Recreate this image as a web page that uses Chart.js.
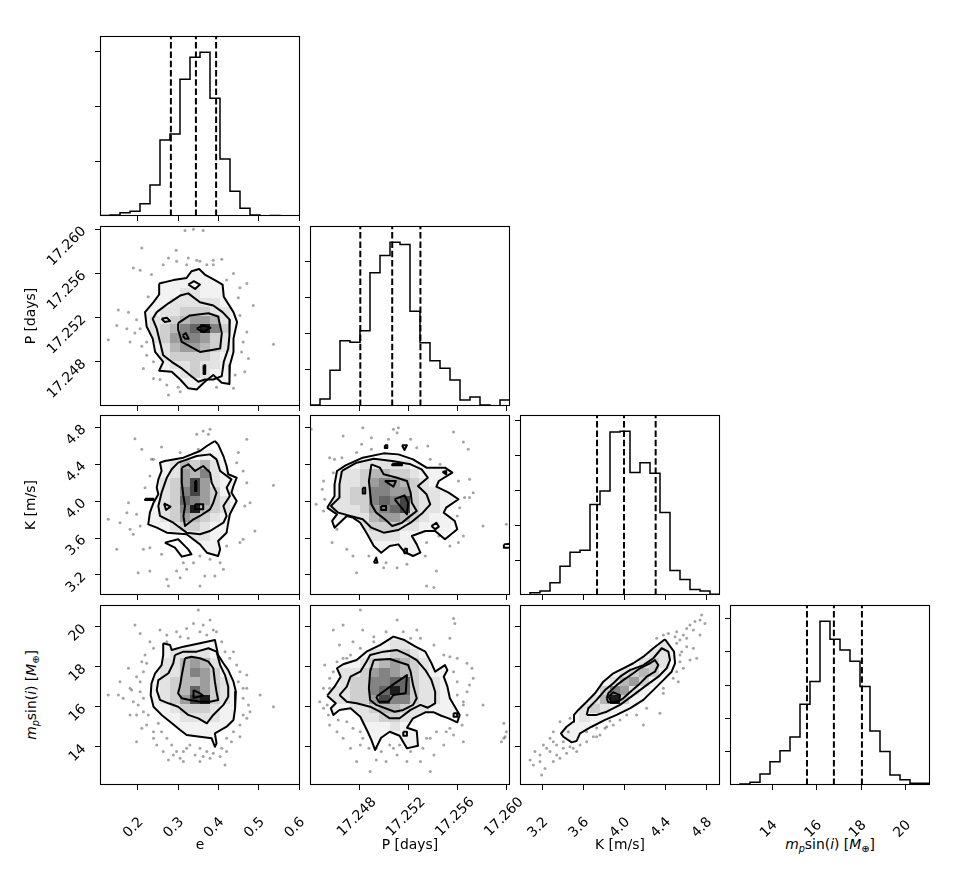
<!DOCTYPE html>
<html><head><meta charset="utf-8">
<script src="https://cdn.jsdelivr.net/npm/chart.js@4.4.1/dist/chart.umd.min.js"></script>
<style>
html,body{margin:0;padding:0;background:#fff;}
body{width:969px;height:874px;position:relative;overflow:hidden;font-family:'DejaVu Sans',sans-serif;}
canvas{position:absolute;}
.lbl{position:absolute;font-family:'DejaVu Sans',sans-serif;font-size:13.9px;white-space:nowrap;color:#000;line-height:1;}
.lbl sub{font-size:70%;vertical-align:-0.3em;line-height:0;}
</style></head><body>
<div class="lbl" style="left:830px;top:845px;transform:translate(-50%,-50%)"><i>m</i><sub><i>p</i></sub>sin(<i>i</i>) [<i>M</i><sub>⊕</sub>]</div>
<div class="lbl" style="left:31.5px;top:695px;transform:translate(-50%,-50%) rotate(-90deg)"><i>m</i><sub><i>p</i></sub>sin(<i>i</i>) [<i>M</i><sub>⊕</sub>]</div>
<script>
// ---------------- DATA ----------------
const eRange = [0.1065, 0.6017];
const pRange = [17.2440, 17.2603];
const kRange = [2.982, 4.934];
const mRange = [12.10, 21.09];

const eTickLabels = ['0.2','0.3','0.4','0.5','0.6'];
const pTickLabels = ['17.248','17.252','17.256','17.260'];
const kTickLabels = ['3.2','3.6','4.0','4.4','4.8'];
const mTickLabels = ['14','16','18','20'];

const eCounts = [1,2,6,8.5,22.6,56.7,139,150,250,290,299,215,104,45,14,2,0,1,0,0];
const pCounts = [1.4,9.7,49.5,90,88,104,184,208,226,223,131,87.5,62.5,52,36,8.3,12.5,1.4,0,8.3];
const kCounts = [0,3.3,5.7,17.6,41,61,64,129.5,148.6,233,234,175,189,174,118,35,22,8,5.7,1];
const mCounts = [0.5,1.5,4,16.5,35,51.5,72,121.5,155.5,246,219,203,186,148,81,50.5,15,8,2.5,2.5];

const eHistTicks = [100,200,300];
const pHistTicks = [50,100,150,200];
const kHistTicks = [50,100,150,200,250];
const mHistTicks = [50,100,150,200,250];

const eQuant = [0.282, 0.344, 0.394];
const pQuant = [17.2481, 17.2507, 17.2530];
const kQuant = [3.734, 3.997, 4.306];
const mQuant = [15.56, 16.77, 18.03];

const Z = "00000000000000000000";
const gridEP = [Z,Z,Z,Z,Z,
"00000000011000000000","00000011111110000000","00000011221110000000","00000112222211000000",
"00001122333221000000","00001223455421000000","00001234679631000000","00000235665321000000",
"00000124554321000000","00000123333211000000","00000012232210000000","00000011232110000000",
"00000001111110000000",Z,Z];
const gridEK = [Z,Z,Z,Z,
"00000000001100000000","00000012434210000000","00000012546210000000","00000123585211000000",
"00000123685311000000","00000123765321000000","00000123694321000000","00000123543210000000",
"00000112332110000000","00000001122110000000","00000000011100000000","00000000001100000000",Z,Z,Z,Z];
const gridPK = [Z,Z,Z,Z,
"00000001110000000000","00011222221100000000","00122344332111000000","00122356543211000000",
"00123366553221100000","01223367683221100000","01222356783221100000","00112245543211100000",
"00011233322111000000","00001122211110000000","00000011111000000000","00000000011000000000",Z,Z,Z,Z];
const gridEM = [Z,Z,Z,Z,
"00000011111100000000","00000112222110000000","00000122454211000000","00000122465311000000",
"00000123445321000000","00000123475321000000","00000123589321000000","00000112333211000000",
"00000011222211000000","00000001111110000000","00000000111100000000",Z,Z,Z,Z,Z];
const gridPM = [Z,Z,Z,
"00000000110000000000","00000011221100000000","00001122332110000000","00011234543211000000",
"00122356543211000000","00123366773221100000","01223367973221100000","01223358663221100000",
"00112234432211100000","00011223322111000000","00000111211100000000","00000011111000000000",
"00000001111000000000",Z,Z,Z,Z];
const gridKM = [Z,Z,Z,
"00000000000000100000","00000000000001210000","00000000000012210000","00000000001123200000",
"00000000012343100000","00000000124531000000","00000001365210000000","00000012493100000000",
"00000123211000000000","00001121100000000000","00001110000000000000","00001100000000000000",
"00001100000000000000",Z,Z,Z,Z];

// contours (outer first)
const epOuter = [[0.253,17.2551],[0.288,17.2554],[0.321,17.2556],[0.333,17.2562],[0.352,17.2564],[0.366,17.2559],[0.391,17.2554],[0.410,17.2550],[0.413,17.2539],[0.437,17.2525],[0.446,17.2516],[0.437,17.2501],[0.437,17.2489],[0.428,17.2477],[0.427,17.2460],[0.408,17.2461],[0.387,17.2468],[0.366,17.2462],[0.346,17.2455],[0.325,17.2456],[0.305,17.2464],[0.284,17.2471],[0.253,17.2472],[0.263,17.2480],[0.243,17.2489],[0.237,17.2501],[0.222,17.2512],[0.218,17.2525],[0.239,17.2534],[0.253,17.2541]];
const epMid = [[0.247,17.2525],[0.276,17.2533],[0.305,17.2540],[0.325,17.2542],[0.354,17.2534],[0.387,17.2531],[0.410,17.2525],[0.428,17.2518],[0.427,17.2504],[0.424,17.2492],[0.413,17.2480],[0.408,17.2467],[0.387,17.2464],[0.366,17.2464],[0.350,17.2462],[0.329,17.2468],[0.309,17.2474],[0.284,17.2480],[0.263,17.2486],[0.255,17.2498],[0.247,17.2510],[0.237,17.2519]];
const epInner = [[0.300,17.2515],[0.329,17.2522],[0.375,17.2524],[0.399,17.2521],[0.408,17.2506],[0.404,17.2492],[0.387,17.2491],[0.354,17.2489],[0.329,17.2494],[0.309,17.2498],[0.300,17.2509]];
const epIslands = [
 [[0.325,17.2550],[0.339,17.2553],[0.354,17.2550],[0.342,17.2546]],
 [[0.259,17.2519],[0.272,17.2520],[0.280,17.2517],[0.267,17.2516]],
 [[0.346,17.2510],[0.362,17.2513],[0.380,17.2511],[0.364,17.2507]],
 [[0.311,17.2504],[0.319,17.2506],[0.326,17.2501],[0.317,17.2501]],
 [[0.363,17.2477],[0.367,17.2477],[0.367,17.2469],[0.363,17.2469]]];

const ekOuter = [[0.391,4.652],[0.371,4.598],[0.354,4.544],[0.313,4.471],[0.267,4.435],[0.255,4.417],[0.259,4.327],[0.251,4.236],[0.247,4.146],[0.251,4.074],[0.239,3.983],[0.230,3.875],[0.226,3.748],[0.247,3.712],[0.272,3.658],[0.321,3.640],[0.354,3.531],[0.371,3.441],[0.399,3.405],[0.404,3.477],[0.399,3.568],[0.420,3.658],[0.424,3.766],[0.428,3.857],[0.445,4.001],[0.432,4.092],[0.437,4.164],[0.445,4.254],[0.424,4.291],[0.420,4.381],[0.412,4.489],[0.399,4.616]];
const ekMid = [[0.300,4.417],[0.346,4.489],[0.379,4.507],[0.395,4.453],[0.404,4.327],[0.432,4.236],[0.420,4.146],[0.428,4.056],[0.412,3.947],[0.420,3.839],[0.412,3.766],[0.379,3.676],[0.354,3.640],[0.321,3.658],[0.288,3.766],[0.255,3.839],[0.251,3.947],[0.259,4.092],[0.272,4.254],[0.284,4.345]];
const ekInner = [[0.309,4.363],[0.325,4.399],[0.342,4.327],[0.362,4.381],[0.379,4.309],[0.383,4.200],[0.395,4.092],[0.387,3.983],[0.379,3.911],[0.354,3.839],[0.338,3.803],[0.317,3.730],[0.313,3.839],[0.317,3.947],[0.313,4.056],[0.309,4.200]];
const ekIslands = [
 [[0.265,3.976],[0.281,3.940],[0.270,3.904]],
 [[0.218,4.027],[0.239,4.027],[0.239,4.012],[0.218,4.012]],
 [[0.342,4.218],[0.345,4.218],[0.345,4.110],[0.342,4.110]],
 [[0.342,3.965],[0.362,3.965],[0.362,3.911],[0.342,3.911]],
 [[0.267,3.550],[0.300,3.586],[0.325,3.477],[0.333,3.423],[0.309,3.398],[0.292,3.495]]];

const pkOuter = [[17.2454,3.929],[17.2460,4.056],[17.2460,4.182],[17.2462,4.327],[17.2469,4.388],[17.2483,4.471],[17.2500,4.518],[17.2512,4.507],[17.2524,4.453],[17.2535,4.363],[17.2550,4.363],[17.2556,4.309],[17.2545,4.218],[17.2543,4.157],[17.2553,4.092],[17.2561,4.020],[17.2551,3.929],[17.2549,3.875],[17.2558,3.785],[17.2560,3.694],[17.2550,3.586],[17.2542,3.676],[17.2534,3.676],[17.2523,3.622],[17.2527,3.531],[17.2530,3.441],[17.2524,3.405],[17.2517,3.448],[17.2512,3.531],[17.2505,3.513],[17.2498,3.441],[17.2492,3.513],[17.2486,3.658],[17.2481,3.766],[17.2475,3.821],[17.2470,3.839],[17.2460,3.712],[17.2458,3.785],[17.2462,3.857]];
const pkMid = [[17.2466,4.327],[17.2478,4.417],[17.2492,4.460],[17.2507,4.435],[17.2522,4.399],[17.2531,4.345],[17.2536,4.254],[17.2528,4.164],[17.2535,4.074],[17.2538,3.965],[17.2532,3.875],[17.2522,3.766],[17.2512,3.687],[17.2500,3.658],[17.2490,3.712],[17.2483,3.803],[17.2473,3.839],[17.2463,3.875],[17.2457,3.947],[17.2464,4.038],[17.2464,4.182]];
const pkInner = [[17.2490,4.399],[17.2497,4.363],[17.2500,4.291],[17.2511,4.254],[17.2519,4.218],[17.2522,4.092],[17.2523,3.983],[17.2527,3.893],[17.2520,3.821],[17.2515,3.766],[17.2507,3.730],[17.2501,3.803],[17.2494,3.875],[17.2490,3.965],[17.2489,4.092],[17.2488,4.218]];
const pkIslands = [
 [[17.2501,4.218],[17.2510,4.218],[17.2508,4.157]],
 [[17.2509,4.020],[17.2517,4.063],[17.2520,3.983],[17.2519,3.857]],
 [[17.2498,3.947],[17.2502,3.947],[17.2502,3.904],[17.2498,3.904]],
 [[17.2483,4.146],[17.2485,4.146],[17.2485,4.084],[17.2483,4.084]],
 [[17.2515,4.605],[17.2519,4.605],[17.2517,4.555]],
 [[17.2501,4.605],[17.2503,4.605],[17.2503,4.576],[17.2501,4.576]],
 [[17.2507,4.406],[17.2515,4.406],[17.2515,4.388],[17.2507,4.388]],
 [[17.2539,3.730],[17.2543,3.766],[17.2545,3.723],[17.2542,3.694]],
 [[17.2517,3.484],[17.2519,3.484],[17.2519,3.434],[17.2517,3.434]],
 [[17.2492,3.333],[17.2494,3.387],[17.2495,3.333]],
 [[17.2598,3.531],[17.2603,3.539],[17.2603,3.495],[17.2598,3.495]],
 [[17.2548,4.316],[17.2551,4.327],[17.2551,4.291]]];

const emOuter = [[0.263,19.18],[0.280,19.09],[0.284,18.84],[0.313,19.01],[0.354,19.18],[0.391,19.34],[0.399,18.59],[0.412,18.18],[0.424,17.84],[0.437,17.26],[0.443,16.76],[0.441,15.93],[0.437,15.35],[0.420,15.01],[0.391,14.68],[0.395,14.18],[0.391,14.01],[0.383,14.43],[0.354,14.51],[0.321,14.60],[0.305,14.85],[0.280,15.26],[0.259,15.60],[0.239,16.01],[0.232,16.59],[0.234,17.18],[0.243,17.68],[0.259,18.09],[0.263,18.59]];
const emMid = [[0.292,18.59],[0.313,18.76],[0.346,18.76],[0.375,18.93],[0.395,18.76],[0.404,18.09],[0.416,17.59],[0.424,17.01],[0.424,16.51],[0.412,16.10],[0.387,15.60],[0.371,15.18],[0.350,15.43],[0.325,15.60],[0.300,16.01],[0.276,16.18],[0.255,16.35],[0.247,16.84],[0.251,17.34],[0.276,17.68],[0.288,18.18]];
const emInner = [[0.317,18.43],[0.333,18.51],[0.354,18.43],[0.375,18.26],[0.387,17.93],[0.391,17.26],[0.395,16.76],[0.399,16.35],[0.379,16.26],[0.354,16.26],[0.329,16.35],[0.309,16.43],[0.300,16.68],[0.305,17.09],[0.309,17.59]];
const emIslands = [[[0.338,16.84],[0.354,16.68],[0.362,16.56],[0.339,16.46]]];

const pmOuter = [[17.2454,16.56],[17.2460,17.01],[17.2465,17.51],[17.2462,17.93],[17.2467,18.13],[17.2478,18.34],[17.2486,18.76],[17.2497,19.09],[17.2508,19.51],[17.2517,19.34],[17.2526,19.01],[17.2534,18.76],[17.2539,18.18],[17.2542,17.76],[17.2550,18.09],[17.2552,17.84],[17.2549,17.51],[17.2552,17.01],[17.2554,16.43],[17.2562,15.60],[17.2560,15.23],[17.2553,15.43],[17.2547,15.56],[17.2541,15.73],[17.2534,15.73],[17.2524,15.43],[17.2519,14.96],[17.2527,14.80],[17.2528,14.06],[17.2519,13.93],[17.2513,14.56],[17.2505,14.76],[17.2498,14.46],[17.2493,13.85],[17.2490,14.35],[17.2487,14.76],[17.2481,15.51],[17.2473,15.93],[17.2464,15.85],[17.2459,15.60],[17.2457,15.93],[17.2461,16.18]];
const pmMid = [[17.2464,16.59],[17.2470,17.01],[17.2473,17.51],[17.2481,17.76],[17.2486,18.26],[17.2489,18.59],[17.2500,18.76],[17.2511,18.84],[17.2520,18.59],[17.2527,18.34],[17.2534,17.84],[17.2539,17.34],[17.2542,16.76],[17.2542,16.18],[17.2536,15.96],[17.2530,16.10],[17.2522,15.85],[17.2513,15.43],[17.2505,15.43],[17.2497,15.76],[17.2489,16.01],[17.2478,16.18],[17.2470,16.26]];
const pmInner = [[17.2492,18.34],[17.2505,18.39],[17.2520,18.09],[17.2522,17.76],[17.2524,17.09],[17.2527,16.43],[17.2524,16.10],[17.2516,15.85],[17.2509,15.76],[17.2494,16.10],[17.2489,16.35],[17.2488,16.93],[17.2489,17.76]];
const pmIslands = [
 [[17.2494,16.51],[17.2507,17.09],[17.2519,17.59],[17.2518,16.68],[17.2508,16.59],[17.2504,16.26],[17.2496,16.26]],
 [[17.2516,14.76],[17.2519,14.76],[17.2519,14.56],[17.2516,14.56]],
 [[17.2557,15.68],[17.2560,15.68],[17.2560,15.51],[17.2557,15.51]]];

const kmOuter = [[4.397,19.38],[4.485,18.76],[4.495,18.18],[4.462,17.76],[4.381,17.34],[4.283,16.84],[4.186,16.35],[4.055,15.93],[3.925,15.60],[3.812,15.35],[3.681,15.01],[3.568,14.68],[3.535,14.30],[3.486,14.23],[3.405,14.51],[3.382,14.68],[3.437,15.01],[3.502,15.26],[3.509,15.60],[3.551,15.85],[3.633,16.26],[3.714,16.68],[3.795,17.26],[3.893,17.68],[3.990,17.93],[4.088,18.18],[4.186,18.51],[4.283,18.93]];
const kmMid = [[3.633,15.60],[3.649,15.93],[3.730,16.35],[3.812,16.84],[3.893,17.18],[3.958,17.51],[4.055,17.84],[4.186,18.09],[4.283,18.43],[4.365,18.93],[4.430,18.76],[4.446,18.34],[4.413,17.93],[4.332,17.51],[4.218,17.09],[4.088,16.59],[3.958,16.10],[3.828,15.76],[3.730,15.60]];
const kmInner = [[3.828,16.43],[3.844,16.68],[3.925,17.09],[3.990,17.34],[4.088,17.68],[4.153,17.93],[4.251,18.18],[4.299,18.34],[4.332,18.09],[4.299,17.76],[4.218,17.51],[4.137,17.09],[4.055,16.73],[3.990,16.43],[3.925,16.23],[3.844,16.23]];
const kmIslands = [[[3.844,16.51],[3.893,16.73],[3.958,16.59],[3.951,16.30],[3.877,16.23]]];

// scattered samples outside the contours
const epPts = [[0.317,17.2599],[0.338,17.2600],[0.362,17.2599],[0.210,17.2583],[0.295,17.2581],[0.325,17.2574],[0.346,17.2572],[0.387,17.2572],[0.408,17.2573],[0.437,17.2560],[0.470,17.2551],[0.263,17.2568],[0.276,17.2574],[0.189,17.2565],[0.206,17.2563],[0.226,17.2539],[0.486,17.2531],[0.152,17.2527],[0.177,17.2525],[0.197,17.2518],[0.148,17.2513],[0.193,17.2506],[0.127,17.2500],[0.181,17.2498],[0.210,17.2494],[0.222,17.2486],[0.239,17.2480],[0.470,17.2507],[0.536,17.2496],[0.457,17.2489],[0.474,17.2483],[0.441,17.2468],[0.465,17.2471],[0.255,17.2464],[0.272,17.2459],[0.300,17.2457],[0.305,17.2453],[0.276,17.2450],[0.214,17.2474],[0.453,17.2522],[0.449,17.2538],[0.387,17.2568],[0.371,17.2568],[0.296,17.2571],[0.234,17.2559],[0.453,17.2547],[0.461,17.2498],[0.437,17.2456],[0.395,17.2457],[0.239,17.2465],[0.206,17.2510],[0.222,17.2498],[0.173,17.2510],[0.354,17.2571],[0.321,17.2568],[0.420,17.2554]];
const ekPts = [[0.193,4.677],[0.239,4.453],[0.210,4.562],[0.259,4.587],[0.305,4.526],[0.350,4.562],[0.362,4.761],[0.379,4.779],[0.346,4.724],[0.375,4.724],[0.470,4.670],[0.449,4.526],[0.445,4.417],[0.461,4.327],[0.470,4.200],[0.536,4.171],[0.478,3.983],[0.465,3.947],[0.490,3.676],[0.461,3.586],[0.453,3.550],[0.420,3.513],[0.404,3.333],[0.379,3.369],[0.354,3.405],[0.338,3.333],[0.313,3.333],[0.296,3.242],[0.305,3.170],[0.272,3.152],[0.276,3.080],[0.230,3.242],[0.201,3.224],[0.214,3.477],[0.189,3.640],[0.181,3.694],[0.156,3.766],[0.173,3.875],[0.197,3.857],[0.206,3.730],[0.177,3.983],[0.127,3.803],[0.148,3.477],[0.230,3.495],[0.259,3.423],[0.321,3.260],[0.391,3.188],[0.412,3.260],[0.354,3.080],[0.366,3.188],[0.218,4.146],[0.230,4.273],[0.234,4.453]];
const pkPts = [[17.2441,4.779],[17.2483,4.797],[17.2508,4.779],[17.2511,4.742],[17.2512,4.797],[17.2504,4.670],[17.2490,4.688],[17.2482,4.616],[17.2467,4.706],[17.2456,4.471],[17.2460,4.453],[17.2466,4.471],[17.2478,4.526],[17.2490,4.562],[17.2522,4.670],[17.2527,4.580],[17.2536,4.598],[17.2557,4.750],[17.2565,4.641],[17.2569,4.562],[17.2538,4.453],[17.2546,4.400],[17.2561,4.218],[17.2570,4.236],[17.2573,4.092],[17.2570,4.038],[17.2566,4.038],[17.2562,3.929],[17.2581,3.730],[17.2600,3.748],[17.2560,3.839],[17.2565,3.622],[17.2561,3.550],[17.2554,3.513],[17.2545,3.622],[17.2535,3.550],[17.2534,3.405],[17.2543,3.242],[17.2535,3.080],[17.2541,3.062],[17.2519,3.315],[17.2511,3.278],[17.2502,3.333],[17.2500,3.278],[17.2478,3.224],[17.2475,3.405],[17.2470,3.477],[17.2458,3.550],[17.2462,3.694],[17.2451,3.893],[17.2452,4.020],[17.2450,4.128],[17.2451,4.218],[17.2445,3.965],[17.2459,4.309],[17.2488,3.405]];
const emPts = [[0.350,20.84],[0.193,20.09],[0.206,19.67],[0.255,19.84],[0.272,19.59],[0.296,19.76],[0.321,19.92],[0.338,20.17],[0.362,20.09],[0.379,20.34],[0.387,19.84],[0.371,19.59],[0.325,19.43],[0.230,19.26],[0.218,18.59],[0.222,18.18],[0.214,17.76],[0.197,17.51],[0.177,17.93],[0.156,17.26],[0.127,16.59],[0.152,16.59],[0.181,16.93],[0.189,16.26],[0.201,16.10],[0.214,15.76],[0.226,15.60],[0.251,15.18],[0.259,14.76],[0.272,14.43],[0.284,14.10],[0.296,13.77],[0.305,13.43],[0.276,13.35],[0.321,13.93],[0.342,13.60],[0.354,13.27],[0.371,13.77],[0.379,13.43],[0.404,13.52],[0.416,13.10],[0.408,13.93],[0.420,14.43],[0.437,14.76],[0.453,15.10],[0.461,15.60],[0.474,16.10],[0.461,16.43],[0.449,17.26],[0.453,17.76],[0.445,18.09],[0.428,18.43],[0.416,18.76],[0.408,19.26],[0.536,16.01],[0.503,16.59],[0.470,16.93],[0.197,14.26],[0.210,14.93],[0.239,14.76],[0.181,15.60],[0.313,13.27],
 [0.185,16.84],[0.164,16.43],[0.206,16.76],[0.214,16.43],[0.197,15.60],[0.222,15.10],[0.239,14.43],[0.247,14.10],[0.263,13.77],[0.288,13.60],[0.313,13.77],[0.329,14.10],[0.354,13.93],[0.362,13.52],[0.387,13.68],[0.420,13.77],[0.432,14.26],[0.453,14.51],[0.470,15.43],[0.478,15.76],[0.461,16.93],[0.470,17.59],[0.437,18.76],[0.395,19.76],[0.354,19.76],[0.305,19.51],[0.272,19.26],[0.239,18.93],[0.210,18.26],[0.206,17.26]];
const pmPts = [[17.2481,20.84],[17.2511,20.34],[17.2557,20.42],[17.2558,20.17],[17.2483,19.84],[17.2492,19.51],[17.2467,20.09],[17.2459,19.84],[17.2527,19.84],[17.2522,19.43],[17.2554,19.43],[17.2554,18.51],[17.2560,18.43],[17.2568,18.18],[17.2572,17.93],[17.2573,17.43],[17.2570,17.09],[17.2568,16.76],[17.2565,16.26],[17.2581,16.10],[17.2598,15.18],[17.2598,14.43],[17.2596,14.26],[17.2557,14.60],[17.2551,14.76],[17.2565,14.26],[17.2549,14.10],[17.2535,14.43],[17.2541,13.60],[17.2530,13.27],[17.2538,12.77],[17.2519,13.27],[17.2511,13.60],[17.2502,13.27],[17.2494,13.35],[17.2489,12.77],[17.2478,13.27],[17.2473,13.93],[17.2467,14.43],[17.2462,14.76],[17.2456,15.10],[17.2455,15.60],[17.2451,15.93],[17.2448,16.26],[17.2451,16.93],[17.2456,17.43],[17.2459,17.76],[17.2452,18.09],[17.2464,19.09],[17.2475,19.26],[17.2473,18.59],[17.2467,18.43],[17.2494,13.93],[17.2505,14.10],[17.2481,14.10],
 [17.2456,16.93],[17.2454,16.10],[17.2463,15.35],[17.2470,15.26],[17.2475,14.93],[17.2481,14.76],[17.2483,14.43],[17.2488,13.93],[17.2498,13.77],[17.2508,13.93],[17.2513,14.10],[17.2522,13.77],[17.2532,13.93],[17.2538,14.43],[17.2543,14.76],[17.2554,14.93],[17.2564,15.10],[17.2568,15.60],[17.2565,16.10],[17.2560,16.59],[17.2560,17.26],[17.2557,17.76],[17.2549,18.59],[17.2541,19.09],[17.2530,19.43],[17.2516,19.76],[17.2502,19.76],[17.2492,19.26],[17.2481,18.93],[17.2470,18.43],[17.2462,18.26],[17.2600,14.76],[17.2599,14.51]];
const kmPts = [[4.755,20.59],[4.739,20.34],[4.787,20.17],[4.674,19.84],[4.609,19.92],[4.576,19.59],[4.543,19.34],[4.511,19.18],[4.609,19.01],[4.560,18.76],[4.543,18.26],[4.576,17.93],[4.511,17.76],[4.527,17.26],[4.381,16.68],[4.348,15.68],[4.186,15.10],[4.121,15.60],[3.958,15.35],[3.893,15.10],[3.763,14.60],[3.698,14.51],[3.633,14.26],[3.568,14.10],[3.470,14.01],[3.405,13.93],[3.340,14.10],[3.307,14.26],[3.242,13.93],[3.177,13.60],[3.080,13.35],[3.112,13.10],[3.193,12.60],[3.307,13.27],[3.372,13.43],[3.275,13.77],[3.437,13.68],[3.535,13.77],[3.633,14.76],[3.372,15.26],[3.470,15.43],[4.316,19.43],[4.430,19.67],[4.495,19.51],[4.641,18.34],[4.706,18.43],[3.828,15.01],
 [3.307,14.76],[3.275,14.43],[3.210,14.10],[3.405,14.26],[3.502,13.93],[3.340,13.60],[3.177,13.27],[3.226,12.93],[3.128,13.77],[3.454,14.76],[3.730,14.95],[3.860,15.30],[4.023,15.60],[4.218,15.93],[4.381,16.93],[4.478,17.43],[4.543,18.59],[4.511,19.76],[4.381,19.59],[4.609,19.43],[4.674,18.93],[4.739,19.59],[4.690,20.26],[4.641,20.09],[3.730,14.51],[3.812,14.93]];

// ---------------- LAYOUT / STYLE ----------------
const COL_X = [100, 310, 520, 730], ROW_Y = [36, 226, 415, 605], PW = 200, PH = 180;
const GREYS = ['#ffffff','#f2f2f2','#e3e3e3','#cfcfcf','#b7b7b7','#9d9d9d','#838383','#666666','#454545','#1c1c1c'];
const FONT = {family: "'DejaVu Sans', sans-serif", size: 13.9};

const params = [
  {range: eRange, labels: eTickLabels, title: 'e', lo: 3.5, pad: 24, counts: eCounts, hticks: eHistTicks, q: eQuant},
  {range: pRange, labels: pTickLabels, title: 'P [days]', lo: 15, pad: 4, counts: pCounts, hticks: pHistTicks, q: pQuant},
  {range: kRange, labels: kTickLabels, title: 'K [m/s]', lo: 3.5, pad: 24, counts: kCounts, hticks: kHistTicks, q: kQuant},
  {range: mRange, labels: mTickLabels, title: null, lo: 3, pad: 27, counts: mCounts, hticks: mHistTicks, q: mQuant}
];
const panels2D = [
  {r:1, c:0, grid:gridEP, outer:epOuter, lines:[epOuter, epMid, epInner, ...epIslands], pts:epPts},
  {r:2, c:0, grid:gridEK, outer:ekOuter, lines:[ekOuter, ekMid, ekInner, ...ekIslands], pts:ekPts},
  {r:2, c:1, grid:gridPK, outer:pkOuter, lines:[pkOuter, pkMid, pkInner, ...pkIslands], pts:pkPts},
  {r:3, c:0, grid:gridEM, outer:emOuter, lines:[emOuter, emMid, emInner, ...emIslands], pts:emPts},
  {r:3, c:1, grid:gridPM, outer:pmOuter, lines:[pmOuter, pmMid, pmInner, ...pmIslands], pts:pmPts},
  {r:3, c:2, grid:gridKM, outer:kmOuter, lines:[kmOuter, kmMid, kmInner, ...kmIslands], pts:kmPts}
];

const toPts = a => a.map(([x, y]) => ({x, y}));
const closed = a => toPts(a.concat([a[0]]));

const framePlugin = {
  id: 'frame',
  afterDatasetsDraw(chart) {
    const {ctx, chartArea: a} = chart;
    ctx.save();
    ctx.strokeStyle = '#000'; ctx.lineWidth = 1.1;
    ctx.strokeRect(a.left + 0.5, a.top + 0.5, a.right - a.left - 1, a.bottom - a.top - 1);
    ctx.restore();
  }
};

function cellPlugin(grid, xr, yr, outer) {
  return {
    id: 'cells',
    beforeDatasetsDraw(chart) {
      const {ctx, chartArea: a} = chart;
      const xs = chart.scales.x, ys = chart.scales.y;
      const n = grid.length, m = grid[0].length;
      ctx.save();
      ctx.beginPath(); ctx.rect(a.left, a.top, a.right - a.left, a.bottom - a.top); ctx.clip();
      ctx.beginPath();
      outer.forEach(([u, v], i) => {
        const px = xs.getPixelForValue(u), py = ys.getPixelForValue(v);
        if (i) ctx.lineTo(px, py); else ctx.moveTo(px, py);
      });
      ctx.closePath(); ctx.clip();
      for (let r = 0; r < n; r++) for (let c = 0; c < m; c++) {
        const d = +grid[r][c];
        if (!d) continue;
        const x0 = xs.getPixelForValue(xr[0] + (xr[1] - xr[0]) * c / m);
        const x1 = xs.getPixelForValue(xr[0] + (xr[1] - xr[0]) * (c + 1) / m);
        const y0 = ys.getPixelForValue(yr[1] - (yr[1] - yr[0]) * r / n);
        const y1 = ys.getPixelForValue(yr[1] - (yr[1] - yr[0]) * (r + 1) / n);
        ctx.fillStyle = GREYS[d];
        ctx.fillRect(Math.floor(x0), Math.floor(y0), Math.ceil(x1) - Math.floor(x0), Math.ceil(y1) - Math.floor(y0));
      }
      ctx.restore();
    }
  };
}

function mkAxis(horizontal, range, vals, labels, show, title, size, lo, pad) {
  return {
    type: 'linear', position: horizontal ? 'bottom' : 'left',
    min: range[0], max: range[1],
    afterBuildTicks: s => { s.ticks = vals.map(v => ({value: v})); },
    afterFit: s => {
      if (horizontal) s.height = size; else s.width = size;
      s.paddingLeft = 0; s.paddingRight = 0; s.paddingTop = 0; s.paddingBottom = 0;
    },
    grid: {display: true, drawOnChartArea: false, drawTicks: true, tickLength: 5, tickWidth: 1, tickColor: '#000', color: '#000'},
    border: {display: false},
    ticks: {display: true, autoSkip: false, minRotation: 45, maxRotation: 45,
      padding: horizontal ? pad : 11, labelOffset: horizontal ? lo : 0,
      color: '#000', font: FONT, callback: (v, i) => show ? labels[i] : ''},
    title: title ? {display: true, text: title, color: '#000', font: FONT,
      padding: horizontal ? {top: 0, bottom: 20.7} : {top: 23.2, bottom: 0}} : {display: false}
  };
}

function makeChart(r, c, datasets, yAxis, plugins) {
  const L = c === 0 ? 100 : 10, B = r === 3 ? 89 : 10, T = 4, R = r === 3 ? 34 : 4;
  const cv = document.createElement('canvas');
  cv.width = L + PW + R; cv.height = T + PH + B;
  cv.style.left = (COL_X[c] - L) + 'px'; cv.style.top = (ROW_Y[r] - T) + 'px';
  document.body.appendChild(cv);
  const xp = params[c];
  const xAxis = mkAxis(true, xp.range, xp.labels.map(Number), xp.labels, r === 3, r === 3 ? xp.title : null, B, xp.lo, xp.pad);
  new Chart(cv, {
    type: 'scatter',
    data: {datasets},
    options: {
      responsive: false, animation: false, events: [],
      layout: {padding: {top: T, right: R, left: 0, bottom: 0}},
      plugins: {legend: {display: false}, tooltip: {enabled: false}},
      scales: {x: xAxis, y: yAxis(L)}
    },
    plugins
  });
}

// diagonal histograms
params.forEach((p, i) => {
  const n = p.counts.length, w = (p.range[1] - p.range[0]) / n;
  const path = [{x: p.range[0], y: 0}];
  p.counts.forEach((h, k) => { path.push({x: p.range[0] + k * w, y: h}); path.push({x: p.range[0] + (k + 1) * w, y: h}); });
  path.push({x: p.range[1], y: 0});
  const ymax = 1.1 * Math.max(...p.counts);
  const datasets = [
    ...p.q.map(v => ({data: [{x: v, y: 0}, {x: v, y: ymax}], showLine: true, borderColor: '#000', borderWidth: 2,
      borderDash: [6.5, 2.8], pointRadius: 0})),
    {data: path, showLine: true, borderColor: '#000', borderWidth: 1.5, pointRadius: 0, borderJoinStyle: 'miter'}
  ];
  makeChart(i, i, datasets, L => mkAxis(false, [0, ymax], p.hticks, p.hticks.map(() => ''), false, null, L, 0, 0), [framePlugin]);
});

// 2D panels
panels2D.forEach(pn => {
  const xp = params[pn.c], yp = params[pn.r];
  const datasets = [
    ...pn.lines.map(poly => ({data: closed(poly), showLine: true, borderColor: '#000', borderWidth: 2,
      pointRadius: 0, tension: 0, borderJoinStyle: 'round'})),
    {data: toPts(pn.pts), showLine: false, pointRadius: 1.5, pointBorderWidth: 0,
      backgroundColor: 'rgba(0,0,0,0.36)', borderColor: 'rgba(0,0,0,0)'}
  ];
  makeChart(pn.r, pn.c, datasets,
    L => mkAxis(false, yp.range, yp.labels.map(Number), yp.labels, pn.c === 0, pn.c === 0 ? yp.title : null, L, 0, 0),
    [cellPlugin(pn.grid, xp.range, yp.range, pn.outer), framePlugin]);
});
</script>
</body></html>
